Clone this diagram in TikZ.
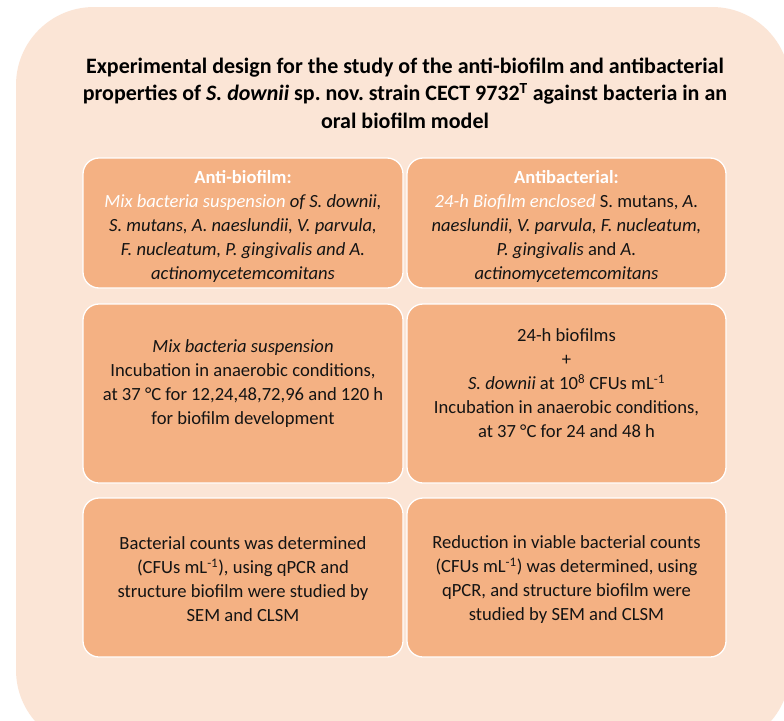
\documentclass[tikz,border=0pt]{standalone}
\usepackage{fontspec}
\setmainfont{Carlito}
\usetikzlibrary{positioning}
\frenchspacing

\definecolor{panel}{HTML}{FBE5D6}
\definecolor{cellfill}{HTML}{F4B183}
\definecolor{ink}{HTML}{141414}

% white italic highlight inside the cells
\newcommand{\hlt}[1]{{\color{white}\itshape #1}}

\tikzset{
  cell/.style={draw=white, line width=1.3pt, fill=cellfill, rounded corners=16pt,
    minimum width=320pt, inner sep=0pt},
  txt/.style={align=center, text=ink, inner sep=0pt,
    font=\fontsize{18.6}{24}\selectfont},
  head/.style={align=center, text=black, inner sep=0pt,
    font=\fontsize{22}{27.5}\selectfont\bfseries}
}

\begin{document}
\begin{tikzpicture}[x=1pt, y=-1pt]
\useasboundingbox (0,0) rectangle (784,720);
\fill[white] (0,0) rectangle (784,720);
\begin{scope}
  \clip (0,0) rectangle (784,720);
  \fill[panel, rounded corners=78pt] (16,7) rectangle (790,748);
\end{scope}

% title
\node[head] (title) at (405,93) {Experimental design for the study of the anti-biofilm and antibacterial\\
  properties of \textit{S. downii} sp. nov. strain CECT 9732\textsuperscript{T} against bacteria in an\\
  oral biofilm model};

% cells
\node[cell, minimum height=130pt] (ab1) at (243,223) {};
\node[cell, minimum width=319pt, minimum height=130pt] (ac1) at (566.5,223) {};
\node[cell, minimum height=179pt] (ab2) at (243,393.5) {};
\node[cell, minimum width=319pt, minimum height=179pt] (ac2) at (566.5,393.5) {};
\node[cell, minimum height=159pt] (ab3) at (243,577.5) {};
\node[cell, minimum width=319pt, minimum height=159pt] (ac3) at (566.5,577.5) {};

% texts
\node[txt] (abt1) at (243,226) {{\bfseries\color{white}Anti-biofilm:}\\
  \hlt{Mix bacteria suspension} \textit{of S. downii,}\\
  \textit{S. mutans, A. naeslundii, V. parvula,}\\
  \textit{F. nucleatum, P. gingivalis and A.}\\
  \textit{actinomycetemcomitans}};
\node[txt] (act1) at (566.5,226) {{\bfseries\color{white}Antibacterial:}\\
  \hlt{24-h Biofilm enclosed} S. mutans, \textit{A.}\\
  \textit{naeslundii, V. parvula, F. nucleatum,}\\
  \textit{P. gingivalis} and \textit{A.}\\
  \textit{actinomycetemcomitans}};
\node[txt] (abt2) at (243,384) {\textit{Mix bacteria suspension}\\
  Incubation in anaerobic conditions,\\
  at 37 °C for 12,24,48,72,96 and 120 h\\
  for biofilm development};
\node[txt] (act2) at (566.5,383) {24-h biofilms\\
  +\\
  \textit{S. downii} at 10\textsuperscript{8} CFUs mL\textsuperscript{-1}\\
  Incubation in anaerobic conditions,\\
  at 37 °C for 24 and 48 h};
\node[txt] (abt3) at (243,579) {Bacterial counts was determined\\
  (CFUs mL\textsuperscript{-1}), using qPCR and\\
  structure biofilm were studied by\\
  SEM and CLSM};
\node[txt] (act3) at (566.5,580) {Reduction in viable bacterial counts\\
  (CFUs mL\textsuperscript{-1}) was determined, using\\
  qPCR, and structure biofilm were\\
  studied by SEM and CLSM};
\end{tikzpicture}
\end{document}
